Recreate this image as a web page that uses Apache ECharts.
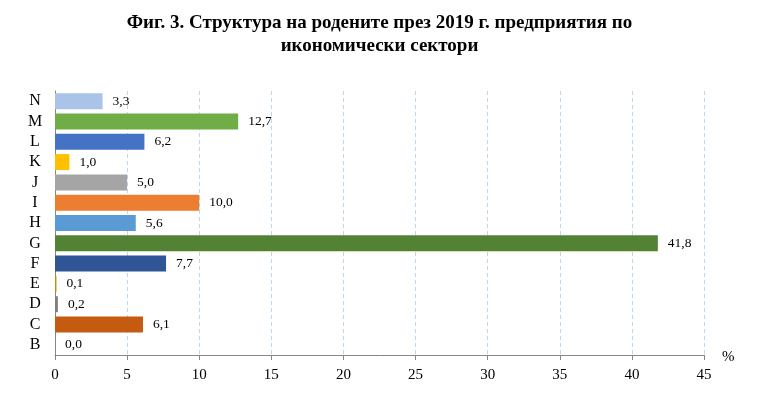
<!DOCTYPE html>
<html><head><meta charset="utf-8">
<script src="https://cdn.jsdelivr.net/npm/echarts@6/dist/echarts.min.js"></script>
<style>html,body{margin:0;padding:0;background:#fff}#c{width:759px;height:396px}</style>
</head><body><div id="c"></div>
<script>
const categories = ['B','C','D','E','F','G','H','I','J','K','L','M','N'];
const values = [0.0, 6.1, 0.2, 0.1, 7.7, 41.8, 5.6, 10.0, 5.0, 1.0, 6.2, 12.7, 3.3];
const barColors = ['#A5A5A5','#C55A11','#7F7F7F','#BF9000','#2F5597','#548235','#5B9BD5','#ED7D31','#A5A5A5','#FFC000','#4472C4','#70AD47','#A9C4E8'];
const titleLines = ['Фиг. 3. Структура на родените през 2019 г. предприятия по', 'икономически сектори'];

const serif = '"Liberation Serif", "Times New Roman", serif';
const chart = echarts.init(document.getElementById('c'));
chart.setOption({
  animation: false,
  title: {
    text: titleLines.join('\n'),
    left: 'center', top: 7,
    textStyle: {fontFamily: serif, fontWeight: 'bold', fontSize: 19, color: '#000', lineHeight: 23}
  },
  grid: {left: 55, right: 55, top: 91, bottom: 41},
  xAxis: {
    type: 'value', min: 0, max: 45, interval: 5,
    name: '%', nameLocation: 'end', nameGap: 18,
    nameTextStyle: {fontFamily: serif, fontSize: 15, color: '#000', verticalAlign: 'bottom', padding: [0,0,-10,0]},
    axisLine: {show: true, lineStyle: {color: '#868686'}},
    axisTick: {show: true, length: 5, lineStyle: {color: '#868686'}},
    axisLabel: {fontFamily: serif, fontSize: 15, color: '#000', margin: 13},
    splitLine: {show: true, lineStyle: {color: '#BDD7EE', type: [4,3]}}
  },
  yAxis: {
    type: 'category', data: categories,
    axisLine: {show: true, lineStyle: {color: '#868686'}},
    axisTick: {show: false},
    axisLabel: {interval: 0, fontFamily: serif, fontSize: 16, color: '#000', margin: 20, align: 'center'}
  },
  series: [{
    type: 'bar', data: values.map((v,i)=>({value:v, itemStyle:{color:barColors[i]}})),
    barWidth: 16,
    label: {show: true, position: 'right', distance: 10, fontFamily: serif, fontSize: 13.5, color: '#000',
      formatter: p => p.value.toFixed(1).replace('.', ',')}
  }]
});
</script></body></html>
